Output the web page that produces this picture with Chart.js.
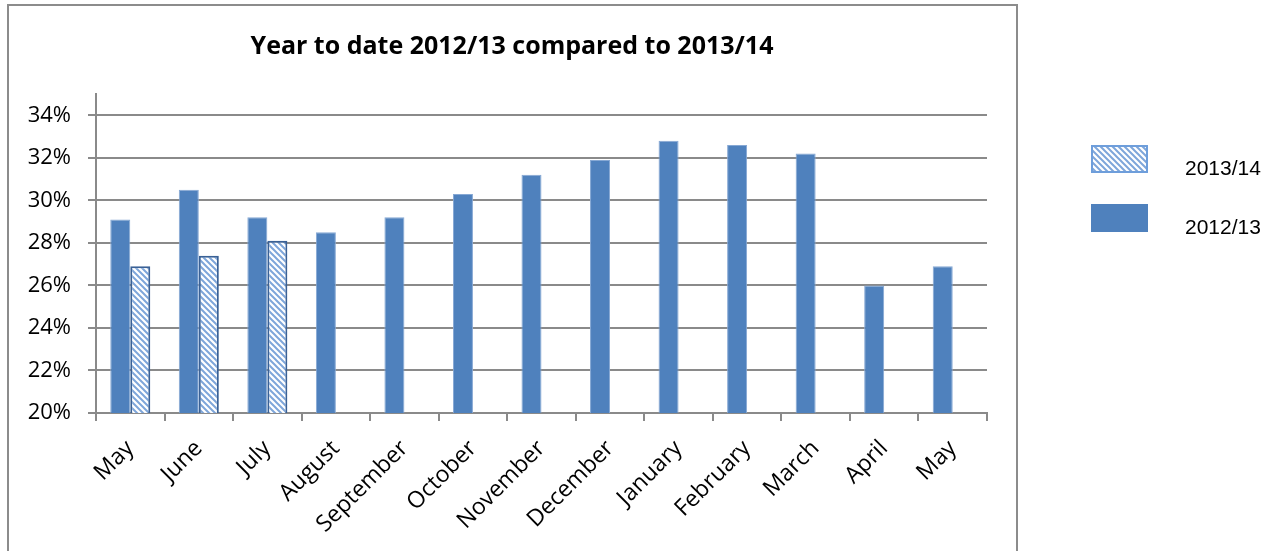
<!DOCTYPE html>
<html>
<head>
<meta charset="utf-8">
<title>Year to date 2012/13 compared to 2013/14</title>
<script src="https://cdn.jsdelivr.net/npm/chart.js@4.4.0/dist/chart.umd.min.js"></script>
<style>
    html, body { margin: 0; padding: 0; background: #fff; }
    canvas { display: block; }
</style>
</head>
<body>
<canvas id="ytdChart" width="1274" height="551"></canvas>
<script>
// Data
const months = ['May', 'June', 'July', 'August', 'September', 'October', 'November',
    'December', 'January', 'February', 'March', 'April', 'May'];
const ytd1213 = [29.1, 30.5, 29.2, 28.5, 29.2, 30.3, 31.2, 31.9, 32.8, 32.6, 32.2, 26.0, 26.9];
const ytd1314 = [26.9, 27.4, 28.1, null, null, null, null, null, null, null, null, null, null];
const seriesLabels = ['2012/13', '2013/14'];
const yTicks = [20, 22, 24, 26, 28, 30, 32, 34];
const chartTitle = 'Year to date 2012/13 compared to 2013/14';

const colors = {
    solid: '#4F81BD',
    solidEdge: '#86a8d4',
    hatchLine: '#7ea6da',
    hatchBorder: '#3a6196',
    legendHatchBorder: '#6e9edb',
    grid: '#8a8a8a',
    frame: '#8c8c8c'
};

// Diagonal hatch used for the 2013/14 series
function makeHatch() {
    const c = document.createElement('canvas');
    c.width = 6;
    c.height = 6;
    const g = c.getContext('2d');
    g.fillStyle = '#ffffff';
    g.fillRect(0, 0, 6, 6);
    g.strokeStyle = colors.hatchLine;
    g.lineWidth = 2;
    g.beginPath();
    g.moveTo(-1, -1); g.lineTo(7, 7);
    g.moveTo(-1, 5); g.lineTo(1, 7);
    g.moveTo(5, -1); g.lineTo(7, 1);
    g.stroke();
    return g.createPattern(c, 'repeat');
}

const ctx = document.getElementById('ytdChart').getContext('2d');
const hatch = makeHatch();

// Outer frame, title and the legend on the right
const decorPlugin = {
    id: 'decor',
    beforeDraw(chart) {
        const c = chart.ctx;
        c.save();
        c.fillStyle = '#fff';
        c.fillRect(0, 0, chart.width, chart.height);
        c.strokeStyle = colors.frame;
        c.lineWidth = 2;
        c.strokeRect(8, 5, 1009, 600);
        c.restore();
    },
    afterDraw(chart) {
        const c = chart.ctx;
        c.save();
        c.fillStyle = '#000';
        c.font = 'bold 25px "Open Sans"';
        c.textAlign = 'center';
        c.textBaseline = 'alphabetic';
        c.fillText(chartTitle, 512, 54);

        // legend, newest series first
        const items = chart.data.datasets.slice().reverse();
        c.font = '21px "Liberation Sans", Arial';
        c.textAlign = 'left';
        items.forEach((ds, i) => {
            const top = 145 + i * 59;
            c.fillStyle = ds.backgroundColor;
            c.fillRect(1091, top, 57, 28);
            if (ds.legendBorder) {
                c.strokeStyle = ds.legendBorder;
                c.lineWidth = 2;
                c.strokeRect(1092, top + 1, 55, 26);
            }
            c.fillStyle = '#000';
            c.fillText(ds.label, 1185, top + 30);
        });
        c.restore();
    }
};

new Chart(ctx, {
    type: 'bar',
    data: {
        labels: months,
        datasets: [
            {
                label: seriesLabels[0],
                data: ytd1213,
                backgroundColor: colors.solid,
                borderColor: colors.solidEdge,
                borderWidth: 1,
                categoryPercentage: 0.584,
                barPercentage: 1.0
            },
            {
                label: seriesLabels[1],
                data: ytd1314,
                backgroundColor: hatch,
                borderColor: colors.hatchBorder,
                borderWidth: 2,
                legendBorder: colors.legendHatchBorder,
                categoryPercentage: 0.584,
                barPercentage: 1.0
            }
        ]
    },
    options: {
        responsive: false,
        animation: false,
        layout: {
            padding: { top: 94, left: 10, right: 287, bottom: 0 }
        },
        plugins: {
            legend: { display: false },
            title: { display: false },
            tooltip: { enabled: false }
        },
        scales: {
            x: {
                grid: {
                    drawOnChartArea: false,
                    offset: true,
                    tickLength: 8,
                    color: colors.grid,
                    lineWidth: 2
                },
                border: { color: colors.grid, width: 2 },
                ticks: {
                    autoSkip: false,
                    minRotation: 45,
                    maxRotation: 45,
                    padding: 14,
                    color: '#000',
                    font: { family: '"Open Sans"', size: 23 }
                },
                afterFit: function(scale) {
                    scale.height = 138;
                }
            },
            y: {
                min: 20,
                max: 35,
                afterBuildTicks: function(scale) {
                    scale.ticks = yTicks.map(v => ({ value: v }));
                },
                grid: {
                    tickLength: 8,
                    color: colors.grid,
                    lineWidth: 2
                },
                border: { color: colors.grid, width: 2 },
                ticks: {
                    padding: 17,
                    color: '#000',
                    font: { family: '"Open Sans"', size: 22 },
                    callback: function(value) {
                        return value + '%';
                    }
                },
                afterFit: function(scale) {
                    scale.width = 86;
                }
            }
        }
    },
    plugins: [decorPlugin]
});
</script>
</body>
</html>
